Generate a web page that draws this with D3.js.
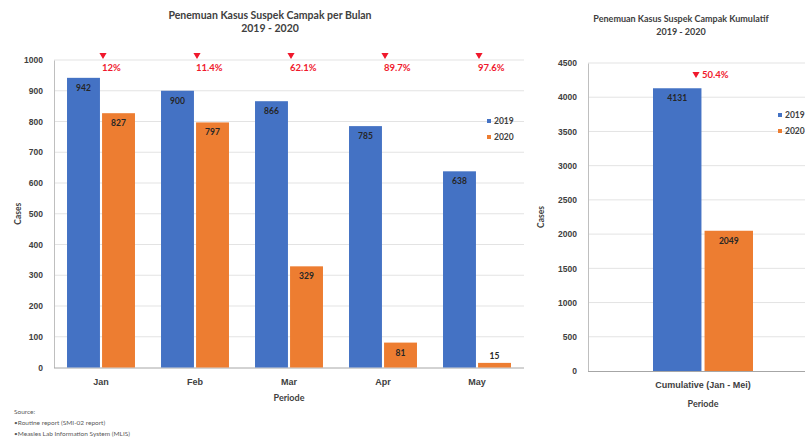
<!DOCTYPE html>
<html>
<head>
<meta charset="utf-8">
<script src="https://cdn.jsdelivr.net/npm/d3@7"></script>
<style>
  html, body { margin: 0; padding: 0; background: #fff; }
  svg { display: block; font-family: Lato, "Liberation Sans", Arial, sans-serif; }
</style>
</head>
<body>
<svg id="chart" width="805" height="441"></svg>
<script>
// Monthly suspected measles cases, 2019 vs 2020
const months = ["Jan", "Feb", "Mar", "Apr", "May"];
const series = ["2019", "2020"];
const cases2019 = [942, 900, 866, 785, 638];
const cases2020 = [827, 797, 329, 81, 15];
const declineLabels = ["12%", "11.4%", "62.1%", "89.7%", "97.6%"];

// Cumulative panel
const cumulativeCategories = ["Cumulative (Jan - Mei)"];
const cumulative2019 = [d3.sum(cases2019)];
const cumulative2020 = [d3.sum(cases2020)];
const cumulativeDecline = ["50.4%"];

const leftTicks = d3.range(0, 1001, 100);
const rightTicks = d3.range(0, 4501, 500);

const sourceLines = [
  "Source:",
  "\u2022Routine report (SMI-02 report)",
  "\u2022Measles Lab Information System (MLIS)"
];

const colors = { "2019": "#4472C4", "2020": "#ED7D31" };
const red = "#F0182C";
const textDark = "#404040";

const svg = d3.select("#chart");

function drawPanel(opt) {
  const g = svg.append("g");
  const { x0range, yrange, cats, v19, v20, ymax, ticks } = opt;

  const x0 = d3.scaleBand().domain(cats).range(x0range)
    .paddingInner(opt.pi).paddingOuter(opt.po);
  const x1 = d3.scaleBand().domain(series).range([0, x0.bandwidth()]).paddingInner(opt.gap);
  const y = d3.scaleLinear().domain([0, ymax]).range(yrange);

  // gridlines
  g.append("g").selectAll("line").data(ticks.filter(t => t > 0)).join("line")
    .attr("x1", x0range[0]).attr("x2", opt.gridEnd)
    .attr("y1", d => y(d)).attr("y2", d => y(d))
    .attr("stroke", "#E3E3E3").attr("stroke-width", 1);

  // y axis
  const yAxis = d3.axisLeft(y).tickValues(ticks).tickFormat(d3.format("d")).tickSize(0).tickPadding(11);
  const ya = g.append("g").attr("transform", `translate(${x0range[0]},0)`).call(yAxis);
  ya.select(".domain").attr("stroke", "#BFBFBF");
  ya.selectAll("text").attr("font-size", 8.5).attr("font-weight", "bold").attr("fill", textDark);

  // x axis
  const xAxis = d3.axisBottom(x0).tickSize(0).tickPadding(11);
  const xa = g.append("g").attr("transform", `translate(0,${yrange[0]})`).call(xAxis);
  xa.select(".domain").attr("d", `M${x0range[0]},0.5H${opt.gridEnd}`).attr("stroke", "#A6A6A6");
  xa.selectAll("text").attr("font-size", 9).attr("font-weight", "bold").attr("fill", textDark);

  const rows = cats.map((c, i) => ({ c, vals: [{ s: "2019", v: v19[i] }, { s: "2020", v: v20[i] }] }));

  const grp = g.append("g").selectAll("g").data(rows).join("g")
    .attr("transform", d => `translate(${x0(d.c)},0)`);

  grp.selectAll("rect").data(d => d.vals).join("rect")
    .attr("x", d => x1(d.s)).attr("width", x1.bandwidth())
    .attr("y", d => y(d.v)).attr("height", d => y(0) - y(d.v))
    .attr("fill", d => colors[d.s]);

  grp.selectAll("text.val").data(d => d.vals).join("text")
    .attr("class", "val")
    .attr("x", d => x1(d.s) + x1.bandwidth() / 2)
    .attr("y", d => (y(0) - y(d.v) > 20) ? y(d.v) + 13 : y(d.v) - 4)
    .attr("text-anchor", "middle")
    .attr("font-size", 8.5).attr("font-weight", "bold")
    .attr("fill", "#262626")
    .text(d => d.v);

  // decline annotations
  const tri = d3.symbol().type(d3.symbolTriangle).size(opt.triSize)();
  const ann = g.append("g").selectAll("g").data(cats).join("g")
    .attr("transform", d => `translate(${x0(d) + x0.bandwidth() / 2 + opt.annDx},${opt.annY})`);
  ann.append("path").attr("d", tri).attr("transform", "rotate(180)").attr("fill", red);
  ann.append("text")
    .attr("x", opt.textDx).attr("y", opt.textDy)
    .attr("font-size", 9.5).attr("font-weight", "bold").attr("fill", red)
    .attr("text-anchor", opt.textAnchor)
    .text((d, i) => opt.labels[i]);

  // titles
  const cx = opt.titleX;
  g.append("text").attr("x", cx).attr("y", opt.titleY).attr("text-anchor", "middle")
    .attr("font-size", opt.titleSize).attr("font-weight", "bold").attr("fill", textDark)
    .text(opt.title);
  g.append("text").attr("x", cx).attr("y", opt.titleY + 13).attr("text-anchor", "middle")
    .attr("font-size", opt.titleSize).attr("font-weight", "bold").attr("fill", textDark)
    .text("2019 - 2020");

  // axis titles
  g.append("text").attr("x", (x0range[0] + x0range[1]) / 2).attr("y", opt.periodeY)
    .attr("text-anchor", "middle").attr("font-size", 9).attr("font-weight", "bold")
    .attr("fill", textDark).text("Periode");
  g.append("text")
    .attr("transform", `translate(${opt.casesX},${(yrange[0] + yrange[1]) / 2}) rotate(-90)`)
    .attr("text-anchor", "middle").attr("font-size", 8.5).attr("font-weight", "bold")
    .attr("fill", textDark).text("Cases");

  // legend
  const lg = g.append("g").selectAll("g").data(series).join("g")
    .attr("transform", (d, i) => `translate(${opt.legendX},${opt.legendY + i * 16})`);
  lg.append("rect").attr("x", 0).attr("y", -5).attr("width", 4).attr("height", 4)
    .attr("fill", d => colors[d]);
  lg.append("text").attr("x", 7).attr("y", 0).attr("font-size", 8.5).attr("font-weight", "bold")
    .attr("fill", textDark).text(d => d);
}

drawPanel({
  x0range: [54, 524], yrange: [367.5, 60], cats: months, v19: cases2019, v20: cases2020,
  ymax: 1000, ticks: leftTicks, pi: 0.277, po: 0.1385, gap: 0.06, gridEnd: 524,
  labels: declineLabels, annY: 55, annDx: 2, textDx: -1, textDy: 16, textAnchor: "start", triSize: 22,
  title: "Penemuan Kasus Suspek Campak per Bulan", titleX: 270, titleY: 19, titleSize: 10.5,
  periodeY: 401, casesX: 21, legendX: 487, legendY: 124
});

drawPanel({
  x0range: [588, 818], yrange: [371, 63], cats: cumulativeCategories, v19: cumulative2019, v20: cumulative2020,
  ymax: 4500, ticks: rightTicks, pi: 0, po: 0.65, gap: 0.06, gridEnd: 805,
  labels: cumulativeDecline, annY: 74, annDx: -7, textDx: 6, textDy: 3.5, textAnchor: "start", triSize: 22,
  title: "Penemuan Kasus Suspek Campak Kumulatif", titleX: 681, titleY: 22, titleSize: 9,
  periodeY: 407, casesX: 544, legendX: 778, legendY: 118
});

// data source note
svg.append("g").selectAll("text").data(sourceLines).join("text")
  .attr("x", 14).attr("y", (d, i) => 414 + i * 11)
  .attr("font-size", 6.5).attr("fill", "#595959")
  .text(d => d);
</script>
</body>
</html>
